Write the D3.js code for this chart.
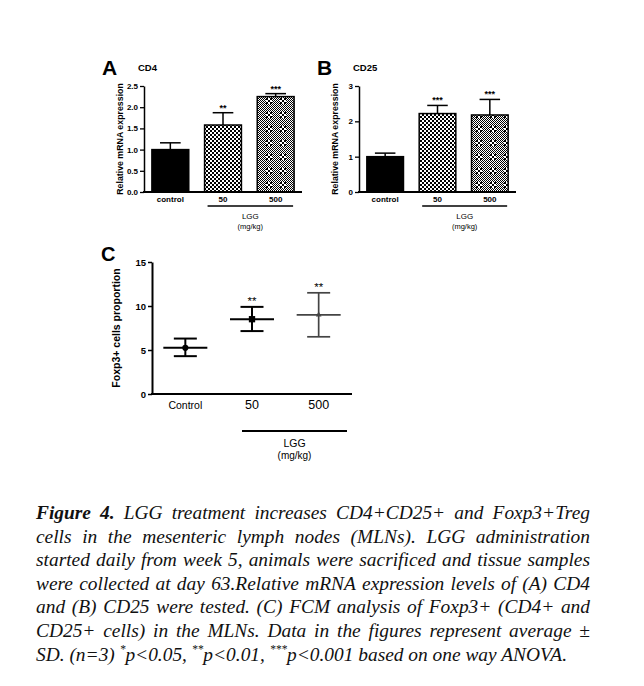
<!DOCTYPE html>
<html><head><meta charset="utf-8">
<script src="https://cdn.jsdelivr.net/npm/d3@7/dist/d3.min.js"></script>
<style>
html,body{margin:0;padding:0;background:#fff;}
svg{display:block;}
</style></head>
<body>
<svg id="chart" width="644" height="686"></svg>
<script>
// ---------- data ----------
const groupsAB = ["control", "50", "500"];
const cd4Mean = [1.0, 1.58, 2.25];
const cd4SD = [0.16, 0.29, 0.07];
const cd4Sig = ["", "**", "***"];
const cd4Ticks = [0, 0.5, 1.0, 1.5, 2.0, 2.5];

const cd25Mean = [1.0, 2.22, 2.18];
const cd25SD = [0.1, 0.23, 0.44];
const cd25Sig = ["", "***", "***"];
const cd25Ticks = [0, 1, 2, 3];

const groupsC = ["Control", "50", "500"];
const foxMean = [5.25, 8.5, 9.0];
const foxLow = [4.3, 7.15, 6.5];
const foxHigh = [6.3, 9.9, 11.5];
const foxSig = ["", "**", "**"];
const foxTicks = [0, 5, 10, 15];

const captionLines = [
  [["Figure", true], ["4.", true], ["LGG"], ["treatment"], ["increases"], ["CD4+CD25+"], ["and"], ["Foxp3+Treg"]],
  "cells in the mesenteric lymph nodes (MLNs). LGG administration",
  "started daily from week 5, animals were sacrificed and tissue samples",
  "were collected at day 63.Relative mRNA expression levels of (A) CD4",
  "and (B) CD25 were tested. (C) FCM analysis of Foxp3+ (CD4+ and",
  "CD25+ cells) in the MLNs. Data in the figures represent average ±"
];

// ---------- drawing ----------
const svg = d3.select("#chart");
const SANS = "'Liberation Sans', Arial, sans-serif";
const SERIF = "'Liberation Serif', 'Times New Roman', serif";

const defs = svg.append("defs");
// coarse checkerboard
const p1 = defs.append("pattern").attr("id", "check2").attr("patternUnits", "userSpaceOnUse")
  .attr("width", 4).attr("height", 4);
p1.append("rect").attr("width", 4).attr("height", 4).attr("fill", "#fff");
p1.append("rect").attr("x", 0).attr("y", 0).attr("width", 2).attr("height", 2).attr("fill", "#000");
p1.append("rect").attr("x", 2).attr("y", 2).attr("width", 2).attr("height", 2).attr("fill", "#000");
// fine plaid checkerboard
const P = 14;
const p2 = defs.append("pattern").attr("id", "plaid").attr("patternUnits", "userSpaceOnUse")
  .attr("width", P).attr("height", P);
p2.append("rect").attr("width", P).attr("height", P).attr("fill", "#fff");
for (let yy = 0; yy < P; yy++) {
  for (let xx = 0; xx < P; xx++) {
    const coarse = (xx < 6 && yy < 6);
    const on = coarse ? ((Math.floor(xx / 2) + Math.floor(yy / 2)) % 2 === 0) : ((xx + yy) % 2 === 0);
    if (on) p2.append("rect").attr("x", xx).attr("y", yy).attr("width", 1).attr("height", 1)
      .attr("fill", "#000").attr("shape-rendering", "crispEdges");
  }
}
const fills = ["#000", "url(#check2)", "url(#plaid)"];

function barPanel(o) {
  const g = svg.append("g");
  const x = d3.scaleBand().domain(o.groups).range([o.x0, o.x1]).paddingInner(0.3).paddingOuter(0.15);
  const y = d3.scaleLinear().domain([0, o.ymax]).range([o.y0, o.y1]);
  o.groups.forEach((gName, i) => {
    const bx = x(gName), bw = x.bandwidth(), cx = bx + bw / 2;
    const top = y(o.mean[i]), eTop = y(o.mean[i] + o.sd[i]);
    g.append("line").attr("x1", cx).attr("x2", cx).attr("y1", top).attr("y2", eTop)
      .attr("stroke", "#000").attr("stroke-width", 1.5);
    g.append("line").attr("x1", cx - bw * 0.28).attr("x2", cx + bw * 0.28).attr("y1", eTop).attr("y2", eTop)
      .attr("stroke", "#000").attr("stroke-width", 1.5);
    g.append("rect").attr("x", bx).attr("y", top).attr("width", bw).attr("height", y(0) - top)
      .attr("fill", fills[i]).attr("stroke", "#000").attr("stroke-width", 1.5);
    if (o.sig[i]) g.append("text").attr("x", cx).attr("y", eTop - 2).attr("text-anchor", "middle")
      .attr("font-family", SANS).attr("font-weight", "bold").attr("font-size", 9).text(o.sig[i]);
    g.append("text").attr("x", cx).attr("y", o.y0 + 10).attr("text-anchor", "middle")
      .attr("font-family", SANS).attr("font-weight", "bold").attr("font-size", 8).text(gName);
  });
  const ya = g.append("g").attr("transform", `translate(${o.x0},0)`)
    .call(d3.axisLeft(y).tickValues(o.ticks).tickSize(4).tickSizeOuter(0).tickFormat(o.fmt));
  ya.select(".domain").attr("stroke-width", 1.5);
  ya.selectAll(".tick line").attr("stroke-width", 1.3);
  ya.selectAll("text").attr("font-family", SANS).attr("font-weight", "bold").attr("font-size", 8).attr("dx", 1);
  g.append("line").attr("x1", o.x0 - 1).attr("x2", o.x1).attr("y1", o.y0).attr("y2", o.y0)
    .attr("stroke", "#000").attr("stroke-width", 2);
  const lx0 = x(o.groups[1]) + 3, lx1 = x(o.groups[2]) + x.bandwidth() - 1;
  g.append("line").attr("x1", lx0).attr("x2", lx1).attr("y1", o.y0 + 14).attr("y2", o.y0 + 14)
    .attr("stroke", "#000").attr("stroke-width", 1.5);
  g.append("text").attr("x", (lx0 + lx1) / 2).attr("y", o.y0 + 27).attr("text-anchor", "middle")
    .attr("font-family", SANS).attr("font-size", 8).text("LGG");
  g.append("text").attr("x", (lx0 + lx1) / 2).attr("y", o.y0 + 37).attr("text-anchor", "middle")
    .attr("font-family", SANS).attr("font-size", 7.5).text("(mg/kg)");
  g.append("text").attr("x", o.x0 - 42).attr("y", 75).attr("font-family", SANS).attr("font-weight", "bold")
    .attr("font-size", 21).text(o.letter);
  g.append("text").attr("x", o.x0 - 6).attr("y", 71).attr("font-family", SANS).attr("font-weight", "bold")
    .attr("font-size", 9.5).text(o.title);
  g.append("text").attr("transform", `translate(${o.x0 - 21},${(o.y0 + o.y1) / 2}) rotate(-90)`)
    .attr("text-anchor", "middle").attr("font-family", SANS).attr("font-weight", "bold").attr("font-size", 8.8)
    .text("Relative mRNA expression");
}

barPanel({ groups: groupsAB, mean: cd4Mean, sd: cd4SD, sig: cd4Sig, ticks: cd4Ticks, ymax: 2.5,
  fmt: d3.format(".1f"), x0: 144, x1: 302, y0: 192, y1: 86, letter: "A", title: "CD4" });
barPanel({ groups: groupsAB, mean: cd25Mean, sd: cd25SD, sig: cd25Sig, ticks: cd25Ticks, ymax: 3,
  fmt: d3.format("d"), x0: 359, x1: 516, y0: 192, y1: 86, letter: "B", title: "CD25" });

// ---------- panel C ----------
(function () {
  const g = svg.append("g");
  const x0 = 152, x1 = 352, y0 = 394, y1 = 262;
  const x = d3.scaleBand().domain(groupsC).range([x0, x1]).padding(0);
  const y = d3.scaleLinear().domain([0, 15]).range([y0, y1]);
  const colors = ["#000", "#000", "#444"];
  groupsC.forEach((gName, i) => {
    const cx = x(gName) + x.bandwidth() / 2;
    const c = colors[i], sw = i === 2 ? 1.7 : 2;
    g.append("line").attr("x1", cx).attr("x2", cx).attr("y1", y(foxLow[i])).attr("y2", y(foxHigh[i]))
      .attr("stroke", c).attr("stroke-width", sw);
    [foxLow[i], foxHigh[i]].forEach(v => g.append("line").attr("x1", cx - 11.5).attr("x2", cx + 11.5)
      .attr("y1", y(v)).attr("y2", y(v)).attr("stroke", c).attr("stroke-width", sw));
    g.append("line").attr("x1", cx - 22).attr("x2", cx + 22).attr("y1", y(foxMean[i])).attr("y2", y(foxMean[i]))
      .attr("stroke", c).attr("stroke-width", sw);
    const sym = [d3.symbolCircle, d3.symbolSquare, d3.symbolTriangle][i];
    const size = [30, 40, 14][i];
    g.append("path").attr("d", d3.symbol(sym, size)()).attr("transform", `translate(${cx},${y(foxMean[i])})`)
      .attr("fill", c);
    if (foxSig[i]) g.append("text").attr("x", cx).attr("y", y(foxHigh[i]) - 2).attr("text-anchor", "middle")
      .attr("font-family", SANS).attr("font-size", 11.5).text(foxSig[i]);
    g.append("text").attr("x", cx).attr("y", y0 + 15).attr("text-anchor", "middle")
      .attr("font-family", SANS).attr("font-size", i === 0 ? 10.5 : 12.5).text(gName);
  });
  const ya = g.append("g").attr("transform", `translate(${x0},0)`)
    .call(d3.axisLeft(y).tickValues(foxTicks).tickSize(4).tickSizeOuter(0).tickFormat(d3.format("d")));
  ya.select(".domain").attr("stroke-width", 2);
  ya.selectAll(".tick line").attr("stroke-width", 1.5);
  ya.selectAll("text").attr("font-family", SANS).attr("font-weight", "bold").attr("font-size", 9.5).attr("dx", 1);
  g.append("line").attr("x1", x0 - 1).attr("x2", x1).attr("y1", y0).attr("y2", y0)
    .attr("stroke", "#000").attr("stroke-width", 2);
  const c50 = x(groupsC[1]) + x.bandwidth() / 2;
  const lx0 = c50 - 10, lx1 = x1 - 5;
  g.append("line").attr("x1", lx0).attr("x2", lx1).attr("y1", 431).attr("y2", 431)
    .attr("stroke", "#000").attr("stroke-width", 2);
  g.append("text").attr("x", (lx0 + lx1) / 2).attr("y", 447).attr("text-anchor", "middle")
    .attr("font-family", SANS).attr("font-size", 10.5).text("LGG");
  g.append("text").attr("x", (lx0 + lx1) / 2).attr("y", 459).attr("text-anchor", "middle")
    .attr("font-family", SANS).attr("font-size", 10).text("(mg/kg)");
  g.append("text").attr("x", 101).attr("y", 261).attr("font-family", SANS).attr("font-weight", "bold")
    .attr("font-size", 20).text("C");
  g.append("text").attr("transform", `translate(120,${(y0 + y1) / 2}) rotate(-90)`)
    .attr("text-anchor", "middle").attr("font-family", SANS).attr("font-size", 10.5)
    .attr("font-weight", "bold").text("Foxp3+ cells proportion");
})();

// ---------- caption ----------
(function () {
  const L = 36, R = 590, base = 519, lh = 23.6, fs = 19.4;
  const cap = svg.append("g").attr("font-family", SERIF).attr("font-style", "italic").attr("font-size", fs)
    .attr("fill", "#111");
  captionLines.forEach((ln, li) => {
    const words = typeof ln === "string" ? ln.split(" ").map(w => [w]) : ln;
    const nodes = words.map(w => cap.append("text").attr("y", base + li * lh)
      .attr("font-weight", w[1] ? "bold" : "normal").text(w[0]));
    const widths = nodes.map(n => n.node().getComputedTextLength());
    const total = d3.sum(widths);
    const gap = (R - L - total) / (nodes.length - 1);
    let cx = L;
    nodes.forEach((n, k) => { n.attr("x", cx); cx += widths[k] + gap; });
  });
  const last = cap.append("text").attr("x", L).attr("y", base + 6 * lh);
  const parts = [["SD. (n=3) "], ["*", 1], ["p<0.05, "], ["**", 1], ["p<0.01, "], ["***", 1],
    ["p<0.001 based on one way ANOVA."]];
  parts.forEach((p, i) => {
    const t = last.append("tspan").text(p[0]);
    if (p[1]) t.attr("font-size", 11.5).attr("dy", -7.5);
    else if (i > 0 && parts[i - 1][1]) t.attr("dy", 7.5);
  });
})();
</script>
</body></html>
